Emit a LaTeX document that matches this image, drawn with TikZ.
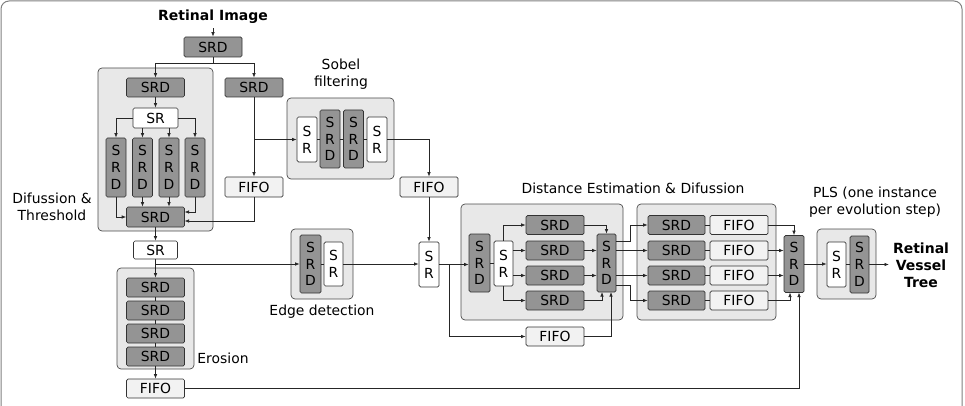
\documentclass[tikz,border=0pt]{standalone}
\usepackage{fontspec}
\setmainfont{DejaVu Sans}
\usetikzlibrary{arrows.meta}
\newcommand\fs{\fontsize{13.9}{16.7}\selectfont}
\begin{document}
\begin{tikzpicture}[x=1pt,y=-1pt,
 base/.style={draw=black!80, line width=0.7pt, rounded corners=1.5pt, inner sep=0pt, font=\fs, align=center},
 srdh/.style={base, fill=black!42, minimum width=58pt, minimum height=19pt},
 srdv/.style={base, fill=black!42, minimum width=20pt, minimum height=58pt},
 srh/.style={base, fill=white, minimum width=45pt, minimum height=19pt},
 srv/.style={base, fill=white, minimum width=20pt, minimum height=45pt},
 fifo/.style={base, fill=black!5, minimum width=58pt, minimum height=19pt},
 group/.style={draw=black!70, fill=black!9, line width=0.7pt, rounded corners=4pt, inner sep=0pt},
 lab/.style={font=\fs, align=center, inner sep=0pt},
 boldlab/.style={font=\fontsize{14}{17}\selectfont\bfseries, align=center, inner sep=0pt},
 arr/.style={draw=black!85, line width=0.7pt, -{Latex[length=4.5pt,width=3.5pt]}},
 ln/.style={draw=black!85, line width=0.7pt}]
\useasboundingbox (0,0) rectangle (965,406);
\draw[black!50, line width=1pt, rounded corners=8pt] (1,1) rectangle (962,440);

% groups
\node[group, minimum width=115pt, minimum height=163pt] (gdt) at (155.5,149.5) {};
\node[group, minimum width=77pt, minimum height=101pt] (gero) at (155.5,318.5) {};
\node[group, minimum width=107pt, minimum height=81pt] (gsob) at (340.5,138.5) {};
\node[group, minimum width=62pt, minimum height=70pt] (gedge) at (322,264) {};
\node[group, minimum width=162pt, minimum height=116pt] (gde) at (542,262) {};
\node[group, minimum width=139pt, minimum height=116pt] (gdif) at (706.5,262) {};
\node[group, minimum width=59pt, minimum height=70pt] (gpls) at (846.5,264) {};

% labels
\node[boldlab] (title) at (213,17) {Retinal Image};
\node[lab] (ldt) at (52,206.5) {Difussion \&\\Threshold};
\node[lab] (lsob) at (341,74) {Sobel\\filtering};
\node[lab] (led) at (322,312) {Edge detection};
\node[lab] (lero) at (223,358) {Erosion};
\node[lab] (lde) at (633,188) {Distance Estimation \& Difussion};
\node[lab] (lpls) at (875,202) {PLS (one instance\\per evolution step)};
\node[boldlab] (out) at (921,265) {Retinal\\Vessel\\Tree};

% left part
\node[srdh, minimum height=20pt] (srd0) at (213,47) {SRD};
\node[srdh] (srd1) at (155.5,87.5) {SRD};
\node[srdh] (srd2) at (254,87.5) {SRD};
\node[srh, minimum height=20pt] (sr1) at (155.5,118) {SR};
\node[srdv, minimum height=59pt] (c1) at (116,167.5) {S\\R\\D};
\node[srdv, minimum height=59pt] (c2) at (142.5,167.5) {S\\R\\D};
\node[srdv, minimum height=59pt] (c3) at (169,167.5) {S\\R\\D};
\node[srdv, minimum height=59pt] (c4) at (195,167.5) {S\\R\\D};
\node[srdh, minimum height=20pt] (srd3) at (155.5,217) {SRD};
\node[fifo, minimum height=20pt] (fifo1) at (254,187) {FIFO};
\node[srh, minimum width=44pt, minimum height=18pt] (sr2) at (155.5,250) {SR};
\node[srdh] (e1) at (155.5,287.5) {SRD};
\node[srdh] (e2) at (155.5,310.5) {SRD};
\node[srdh] (e3) at (155.5,333.5) {SRD};
\node[srdh] (e4) at (155.5,356.5) {SRD};
\node[fifo] (fifoe) at (155.5,388.5) {FIFO};

% sobel
\node[srv] (s1) at (307,139.5) {S\\R};
\node[srdv] (s2) at (330,139) {S\\R\\D};
\node[srdv] (s3) at (353.5,139) {S\\R\\D};
\node[srv] (s4) at (377,139.5) {S\\R};
\node[fifo, minimum height=20pt] (fifo2) at (429,187) {FIFO};

% edge
\node[srdv, minimum width=21pt] (ed1) at (310.5,264) {S\\R\\D};
\node[srv, minimum width=19pt, minimum height=44pt] (ed2) at (333.5,264) {S\\R};
\node[srv] (src) at (429,264.5) {S\\R};

% distance estimation
\node[srdv, minimum width=21pt] (d1) at (479.5,263) {S\\R\\D};
\node[srv, minimum width=19pt] (d2) at (503.5,263.5) {S\\R};
\node[srdh] (r1) at (555,225) {SRD};
\node[srdh] (r2) at (555,250.5) {SRD};
\node[srdh] (r3) at (555,275.5) {SRD};
\node[srdh] (r4) at (555,300.5) {SRD};
\node[srdv, minimum width=19pt] (dm) at (606.5,263) {S\\R\\D};
\node[fifo] (fifo3) at (555,336.5) {FIFO};

% diffusion
\node[srdh, minimum width=57pt] (q1) at (676.5,225) {SRD};
\node[srdh, minimum width=57pt] (q2) at (676.5,250.5) {SRD};
\node[srdh, minimum width=57pt] (q3) at (676.5,275.5) {SRD};
\node[srdh, minimum width=57pt] (q4) at (676.5,300.5) {SRD};
\node[fifo] (f1) at (739,225) {FIFO};
\node[fifo] (f2) at (739,250.5) {FIFO};
\node[fifo] (f3) at (739,275.5) {FIFO};
\node[fifo] (f4) at (739,300.5) {FIFO};
\node[srdv, minimum height=57pt] (sf) at (794,264) {S\\R\\D};

% PLS
\node[srv, minimum width=19pt] (p1) at (836.5,264.5) {S\\R};
\node[srdv, minimum width=19pt, minimum height=57pt] (p2) at (859.5,264.5) {S\\R\\D};

% coordinates
\coordinate (spl) at (213,63);
\coordinate (j4) at (184.5,212);
\coordinate (j5) at (184.5,221);
\coordinate (jf) at (799,292.5);
\coordinate (jb) at (449,264.5);
\coordinate (jr4) at (602,292);
\coordinate (jf3) at (611,292);
\coordinate (m1) at (616,241);
\coordinate (m4) at (616,285);
\coordinate (jf4) at (790,292.5);
\coordinate (jo) at (889,264.5);

% connectors
\draw[arr] ([yshift=-4pt]title.south) -- (srd0.north);
\draw[ln] (srd0.south) -- (spl);
\draw[arr] (spl) -| (srd1.north);
\draw[arr] (spl) -| (srd2.north);
\draw[arr] (srd1.south) -- (sr1.north);
\draw[arr] (sr1.west) -| (c1.north);
\draw[arr] (sr1.east) -| (c4.north);
\draw[arr] (sr1.south -| c2.north) -- (c2.north);
\draw[arr] (sr1.south -| c3.north) -- (c3.north);
\draw[arr] (c1.south) |- (srd3.west);
\draw[arr] (c2.south) -- (c2.south |- srd3.north);
\draw[arr] (c3.south) -- (c3.south |- srd3.north);
\draw[arr] (c4.south) |- (j4);
\draw[arr] (fifo1.south) |- (j5);
\draw[arr] (srd2.south) -- (fifo1.north);
\draw[arr] (srd2.south |- s1.west) -- (s1.west);
\draw[ln] (s1.east) -- (s2.west |- s1.east) (s2.east) -- (s3.west) (s3.east) -- (s4.west |- s3.east);
\draw[arr] (s4.east) -| (fifo2.north);
\draw[arr] (fifo2.south) -- (src.north);
\draw[arr] (srd3.south) -- (sr2.north);
\draw[arr] (sr2.south) -- (e1.north);
\draw[arr] (sr2.south |- ed1.west) -- (ed1.west);
\draw[ln] (e1.south) -- (e2.north) (e2.south) -- (e3.north) (e3.south) -- (e4.north);
\draw[arr] (e4.south) -- (fifoe.north);
\draw[arr] (fifoe.east) -| (jf);
\draw[ln] (ed1.east) -- (ed2.west);
\draw[arr] (ed2.east) -- (src.west |- ed2.east);
\draw[arr] (src.east) -- (d1.west |- src.east);
\draw[arr] (jb) |- (fifo3.west);
\draw[ln] (d1.east |- d2.west) -- (d2.west);
\draw[arr] (d2.north) |- (r1.west);
\draw[arr] (d2.east |- r2.west) -- (r2.west);
\draw[arr] (d2.east |- r3.west) -- (r3.west);
\draw[arr] (d2.south) |- (r4.west);
\draw[arr] (r1.east) -| (dm.north);
\draw[arr] (r2.east) -- (dm.west |- r2.east);
\draw[arr] (r3.east) -- (dm.west |- r3.east);
\draw[arr] (r4.east) -| (jr4);
\draw[arr] (fifo3.east) -| (jf3);
\draw[arr] (m1) -- ++(14,0) |- (q1.west);
\draw[arr] (dm.east |- q2.west) -- (q2.west);
\draw[arr] (dm.east |- q3.west) -- (q3.west);
\draw[arr] (m4) -- ++(14,0) |- (q4.west);
\draw[ln] (q1.east) -- (f1.west) (q2.east) -- (f2.west) (q3.east) -- (f3.west) (q4.east) -- (f4.west);
\draw[arr] (f1.east) -| (sf.north);
\draw[arr] (f2.east) -- (sf.west |- f2.east);
\draw[arr] (f3.east) -- (sf.west |- f3.east);
\draw[arr] (f4.east) -| (jf4);
\draw[arr] (sf.east) -- (p1.west |- sf.east);
\draw[ln] (p1.east) -- (p2.west |- p1.east);
\draw[arr] (p2.east) -- (jo);
\end{tikzpicture}
\end{document}
